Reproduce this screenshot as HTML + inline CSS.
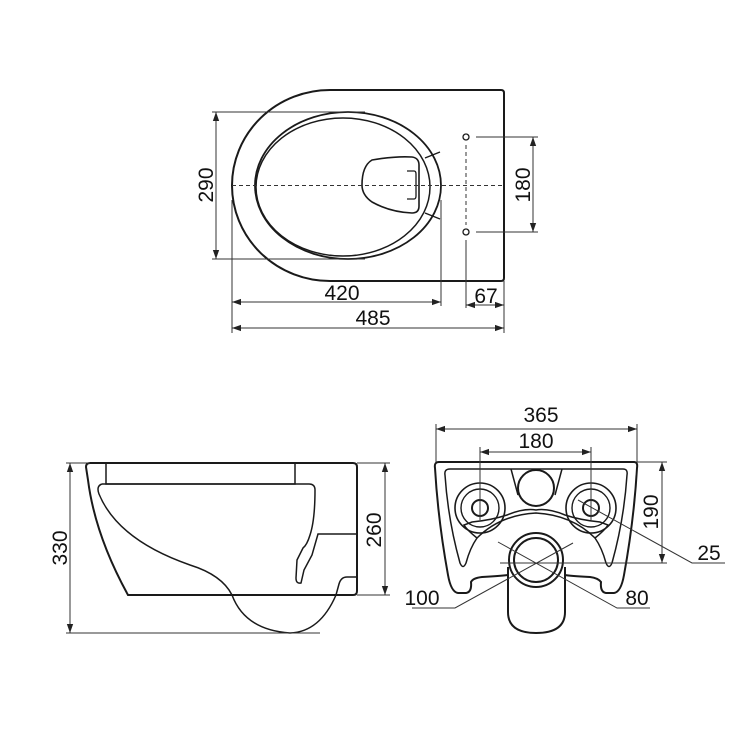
<!DOCTYPE html>
<html><head><meta charset="utf-8"><style>
html,body{margin:0;padding:0;background:#fff}
svg{display:block}
text{font-family:"Liberation Sans",Arial,sans-serif;font-size:21px;fill:#111}
</style></head><body>
<svg width="750" height="750" viewBox="0 0 750 750" xmlns="http://www.w3.org/2000/svg">
<defs>
<marker id="a" viewBox="0 0 10 10" refX="10" refY="5" markerWidth="9" markerHeight="9" orient="auto-start-reverse" markerUnits="userSpaceOnUse"><path d="M0,1.5 L10,5 L0,8.5z" fill="#222"/></marker>
</defs>
<g fill="none" stroke="#1a1a1a" stroke-width="2">
<!-- TOP VIEW -->
<path d="M330,90 L501,90 Q504,90 504,93 L504,278 Q504,281 501,281 L330,281 A98,95.5 0 0 1 330,90 Z"/>
<ellipse cx="348" cy="185.5" rx="93" ry="73.5" stroke-width="1.8"/>
<ellipse cx="343" cy="187" rx="87" ry="69" stroke-width="1.5"/>
<path d="M425,158 L440,152 M425,213 L440,219" stroke-width="1.4"/>
<path d="M372,160 Q395,156 412,157 Q419,158 419,165 L419,206 Q419,213 412,213 Q390,212 372,202 Q362,195 362,185 Q362,166 372,160 Z" stroke-width="1.6"/>
<path d="M407,171 L414,171 Q416,171 416,174 L416,196 Q416,199 414,199 L407,199" stroke-width="1.3"/>
<circle cx="466" cy="137" r="3" stroke-width="1.3"/>
<circle cx="466" cy="232" r="3" stroke-width="1.3"/>
</g>
<g fill="none" stroke="#333" stroke-width="1">
<line x1="232" y1="185.5" x2="504" y2="185.5" stroke-dasharray="4,3"/>
<line x1="466" y1="145" x2="466" y2="225" stroke-dasharray="4,3"/>
<line x1="466" y1="240" x2="466" y2="308"/>
<line x1="212" y1="112" x2="365" y2="112"/>
<line x1="212" y1="259" x2="365" y2="259"/>
<line x1="216" y1="112" x2="216" y2="259" marker-start="url(#a)" marker-end="url(#a)"/>
<line x1="476" y1="137" x2="538" y2="137"/>
<line x1="476" y1="232" x2="538" y2="232"/>
<line x1="533" y1="137" x2="533" y2="232" marker-start="url(#a)" marker-end="url(#a)"/>
<line x1="232" y1="200" x2="232" y2="333"/>
<line x1="441" y1="200" x2="441" y2="306"/>
<line x1="504" y1="281" x2="504" y2="333"/>
<line x1="232" y1="302" x2="441" y2="302" marker-start="url(#a)" marker-end="url(#a)"/>
<line x1="466" y1="305" x2="504" y2="305" marker-start="url(#a)" marker-end="url(#a)"/>
<line x1="232" y1="328" x2="504" y2="328" marker-start="url(#a)" marker-end="url(#a)"/>
</g>
<text x="342" y="300" text-anchor="middle">420</text>
<text x="486" y="303" text-anchor="middle">67</text>
<text x="373" y="325" text-anchor="middle">485</text>
<text transform="translate(213,185) rotate(-90)" text-anchor="middle">290</text>
<text transform="translate(530,185) rotate(-90)" text-anchor="middle">180</text>

<!-- SIDE VIEW -->
<g fill="none" stroke="#1a1a1a" stroke-width="2">
<path d="M90,463 L353,463 Q357,463 357,467 L357,591 Q357,595 353,595 L128,595 Q95,535 88,480 L86,467 Q86,463 90,463 Z"/>
<path d="M106,463 L106,484 L295,484 L295,463" stroke-width="1.5"/>
<path d="M102,484 L309,484 Q315,484 315,490 Q315,520 310,535 Q307,545 303,548 L297,560 L296,578 Q296,584 301,583 L304,570 L312,555 L318,534 L357,534" stroke-width="1.5"/>
<path d="M102,484 Q96,486 99,494 Q118,540 190,565 Q222,575 232,595 Q245,630 290,633 Q320,632 336,595 L339,584 Q341,577 347,577 L357,577" stroke-width="1.5"/>
</g>
<g fill="none" stroke="#333" stroke-width="1">
<line x1="66" y1="463" x2="90" y2="463"/>
<line x1="66" y1="633" x2="320" y2="633"/>
<line x1="70" y1="463" x2="70" y2="633" marker-start="url(#a)" marker-end="url(#a)"/>
<line x1="357" y1="463" x2="390" y2="463"/>
<line x1="357" y1="595" x2="390" y2="595"/>
<line x1="385" y1="463" x2="385" y2="595" marker-start="url(#a)" marker-end="url(#a)"/>
</g>
<text transform="translate(67,548) rotate(-90)" text-anchor="middle">330</text>
<text transform="translate(381,530) rotate(-90)" text-anchor="middle">260</text>

<!-- BACK VIEW -->
<g fill="none" stroke="#1a1a1a" stroke-width="2">
<path d="M439,462 L634,462 Q638,462 637,468 Q634,520 624,575 Q621,592 614,593 L606,593 Q600,592 601,582 Q598,578 590,577 Q570,576 565,575 L508,575 Q500,576 482,577 Q473,578 471,582 Q472,592 466,593 L458,593 Q451,592 448,575 Q438,520 435,468 Q434,462 439,462 Z"/>
<path d="M450,469 L623,469 Q628,469 627,475 Q624,520 612,563 Q609,570 606,563 Q602,548 595,538 Q605,530 608,525 L600,522 Q580,520 565,515 Q548,508 536,510 Q524,508 507,515 Q492,520 472,522 L464,525 Q467,530 477,538 Q470,548 466,563 Q463,570 460,563 Q448,520 445,475 Q444,469 450,469 Z" stroke-width="1.5"/>
<path d="M477,538 Q500,515 536,513 Q572,515 595,538" stroke-width="1.5"/>
<path d="M511,469 L518,495 M562,469 L555,495" stroke-width="1.5"/>
<circle cx="536" cy="488" r="18"/>
<circle cx="480" cy="508" r="25" stroke-width="1.6"/>
<circle cx="480" cy="508" r="19" stroke-width="1.4"/>
<circle cx="480" cy="508" r="8"/>
<circle cx="591" cy="508" r="25" stroke-width="1.6"/>
<circle cx="591" cy="508" r="19" stroke-width="1.4"/>
<circle cx="591" cy="508" r="8"/>
<path d="M508,567 L508,612 Q508,633 536,633 Q565,633 565,612 L565,567" fill="#fff"/>
<circle cx="536" cy="560" r="27" fill="#fff"/>
<circle cx="536" cy="560" r="22"/>
</g>
<g fill="none" stroke="#333" stroke-width="1">
<line x1="436" y1="424" x2="436" y2="462"/>
<line x1="637" y1="424" x2="637" y2="462"/>
<line x1="436" y1="429" x2="637" y2="429" marker-start="url(#a)" marker-end="url(#a)"/>
<line x1="480" y1="447" x2="480" y2="520"/>
<line x1="591" y1="447" x2="591" y2="520"/>
<line x1="480" y1="452" x2="591" y2="452" marker-start="url(#a)" marker-end="url(#a)"/>
<line x1="637" y1="462" x2="667" y2="462"/>
<line x1="500" y1="563" x2="667" y2="563"/>
<line x1="662" y1="462" x2="662" y2="563" marker-start="url(#a)" marker-end="url(#a)"/>
<polyline points="578,500 692,563 725,563"/>
<polyline points="498,542 617,608 650,608"/>
<polyline points="573,543 455,608 412,608"/>
</g>
<text x="541" y="422" text-anchor="middle">365</text>
<text x="536" y="448" text-anchor="middle">180</text>
<text transform="translate(658,512) rotate(-90)" text-anchor="middle">190</text>
<text x="709" y="560" text-anchor="middle">25</text>
<text x="637" y="605" text-anchor="middle">80</text>
<text x="422" y="605" text-anchor="middle">100</text>
</svg>
</body></html>
